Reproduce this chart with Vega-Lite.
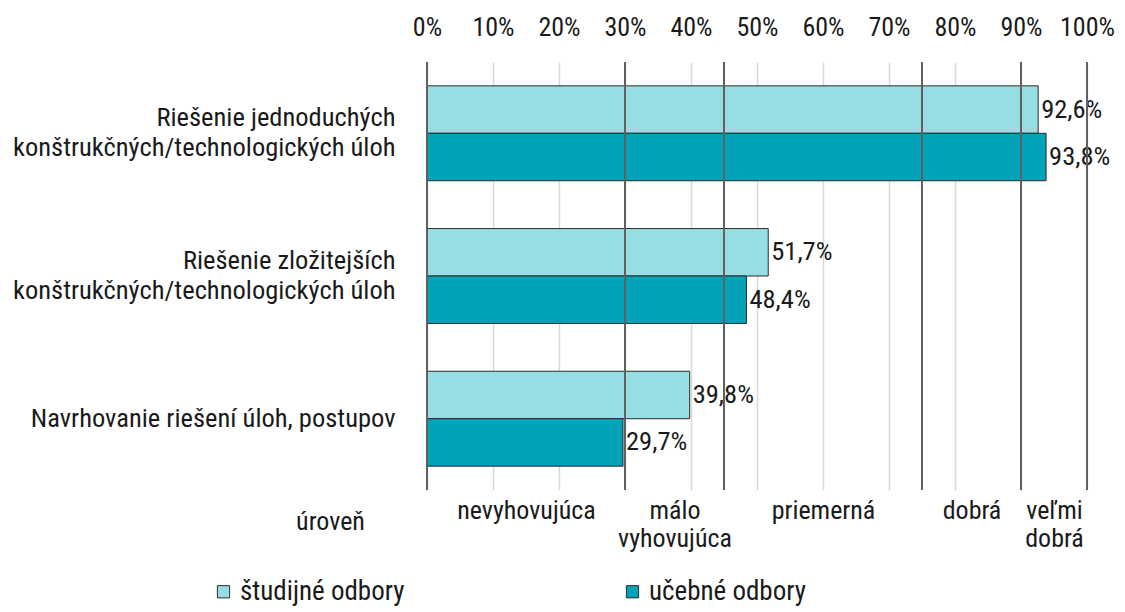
{
  "$schema": "https://vega.github.io/schema/vega-lite/v6.json",
  "width": 660,
  "height": 428,
  "autosize": "none",
  "padding": {"left": 427, "top": 62, "right": 38, "bottom": 122},
  "background": "white",
  "config": {
    "font": "Roboto Condensed, Liberation Sans Narrow, Roboto",
    "view": {"stroke": null},
    "axis": {"labelColor": "#1a1a1a", "titleColor": "#1a1a1a", "labelFontWeight": "normal"},
    "text": {"color": "#1a1a1a"}
  },
  "datasets": {
    "bars": [
      {"cat": "Riešenie jednoduchých|konštrukčných/technologických úloh", "typ": "študijné odbory", "value": 92.6, "label": "92,6%"},
      {"cat": "Riešenie jednoduchých|konštrukčných/technologických úloh", "typ": "učebné odbory", "value": 93.8, "label": "93,8%"},
      {"cat": "Riešenie zložitejších|konštrukčných/technologických úloh", "typ": "študijné odbory", "value": 51.7, "label": "51,7%"},
      {"cat": "Riešenie zložitejších|konštrukčných/technologických úloh", "typ": "učebné odbory", "value": 48.4, "label": "48,4%"},
      {"cat": "Navrhovanie riešení úloh, postupov", "typ": "študijné odbory", "value": 39.8, "label": "39,8%"},
      {"cat": "Navrhovanie riešení úloh, postupov", "typ": "učebné odbory", "value": 29.7, "label": "29,7%"}
    ],
    "levels": [{"v": 0}, {"v": 30}, {"v": 45}, {"v": 75}, {"v": 90}, {"v": 100}]
  },
  "layer": [
    {
      "data": {"name": "bars"},
      "mark": {"type": "bar", "stroke": "#2b2b2b", "strokeWidth": 1},
      "encoding": {
        "y": {
          "field": "cat", "type": "nominal", "sort": null,
          "scale": {"paddingInner": 0.335, "paddingOuter": 0.167},
          "axis": {"title": null, "domain": false, "ticks": false, "labelExpr": "split(datum.label, '|')",
                   "labelFontSize": 26.5, "labelLineHeight": 30, "labelPadding": 32, "labelLimit": 0, "labelAlign": "right",
                   "labelOffset": {"condition": {"test": "indexof(datum.label, '|') >= 0", "value": -15}, "value": 0}}
        },
        "yOffset": {"field": "typ", "type": "nominal", "sort": ["študijné odbory", "učebné odbory"]},
        "x": {
          "field": "value", "type": "quantitative", "scale": {"domain": [0, 100]},
          "axis": {"orient": "top", "title": null, "values": [0, 10, 20, 30, 40, 50, 60, 70, 80, 90, 100],
                   "labelExpr": "datum.value + '%'", "grid": true, "gridColor": "#d9d9d9", "gridWidth": 1.5,
                   "domain": false, "ticks": false, "labelPadding": 22, "labelFontSize": 26, "labelFlush": false}
        },
        "color": {
          "field": "typ", "type": "nominal",
          "scale": {"domain": ["študijné odbory", "učebné odbory"], "range": ["#96DEE4", "#02A3B8"]},
          "legend": {"orient": "none", "legendX": -217, "legendY": 516, "title": null, "direction": "horizontal",
                     "columns": 2, "columnPadding": 214, "symbolType": "square", "symbolSize": 150,
                     "symbolStrokeColor": "#2b2b2b", "symbolStrokeWidth": 1, "symbolOpacity": 1,
                     "labelFontSize": 27, "labelOffset": 3, "labelColor": "#1a1a1a", "labelLimit": 0}
        }
      }
    },
    {
      "data": {"name": "bars"},
      "mark": {"type": "text", "align": "left", "baseline": "middle", "dx": 3, "fontSize": 26.5},
      "encoding": {
        "y": {"field": "cat", "type": "nominal", "sort": null},
        "yOffset": {"field": "typ", "type": "nominal", "sort": ["študijné odbory", "učebné odbory"]},
        "x": {"field": "value", "type": "quantitative", "axis": null},
        "text": {"field": "label"}
      }
    },
    {
      "data": {"name": "levels"},
      "mark": {"type": "rule", "color": "#606060", "strokeWidth": 2},
      "encoding": {
        "x": {
          "field": "v", "type": "quantitative",
          "axis": {"orient": "bottom", "values": [15, 37.5, 60, 82.5, 95], "domain": false, "ticks": false, "grid": false,
                   "labelExpr": "datum.value == 15 ? 'nevyhovujúca' : datum.value == 37.5 ? ['málo', 'vyhovujúca'] : datum.value == 60 ? 'priemerná' : datum.value == 82.5 ? 'dobrá' : ['veľmi', 'dobrá']",
                   "labelFontSize": 26, "labelLineHeight": 28, "labelBaseline": "top", "labelAlign": "center", "labelPadding": 7,
                   "labelFlush": false, "labelOverlap": false, "labelLimit": 0,
                   "title": "úroveň", "titleFontSize": 26, "titleFontWeight": "normal", "titleX": -97, "titleY": 31,
                   "titleAlign": "center", "titleBaseline": "middle", "titleAngle": 0}
        }
      }
    }
  ],
  "resolve": {"axis": {"x": "independent"}}
}
